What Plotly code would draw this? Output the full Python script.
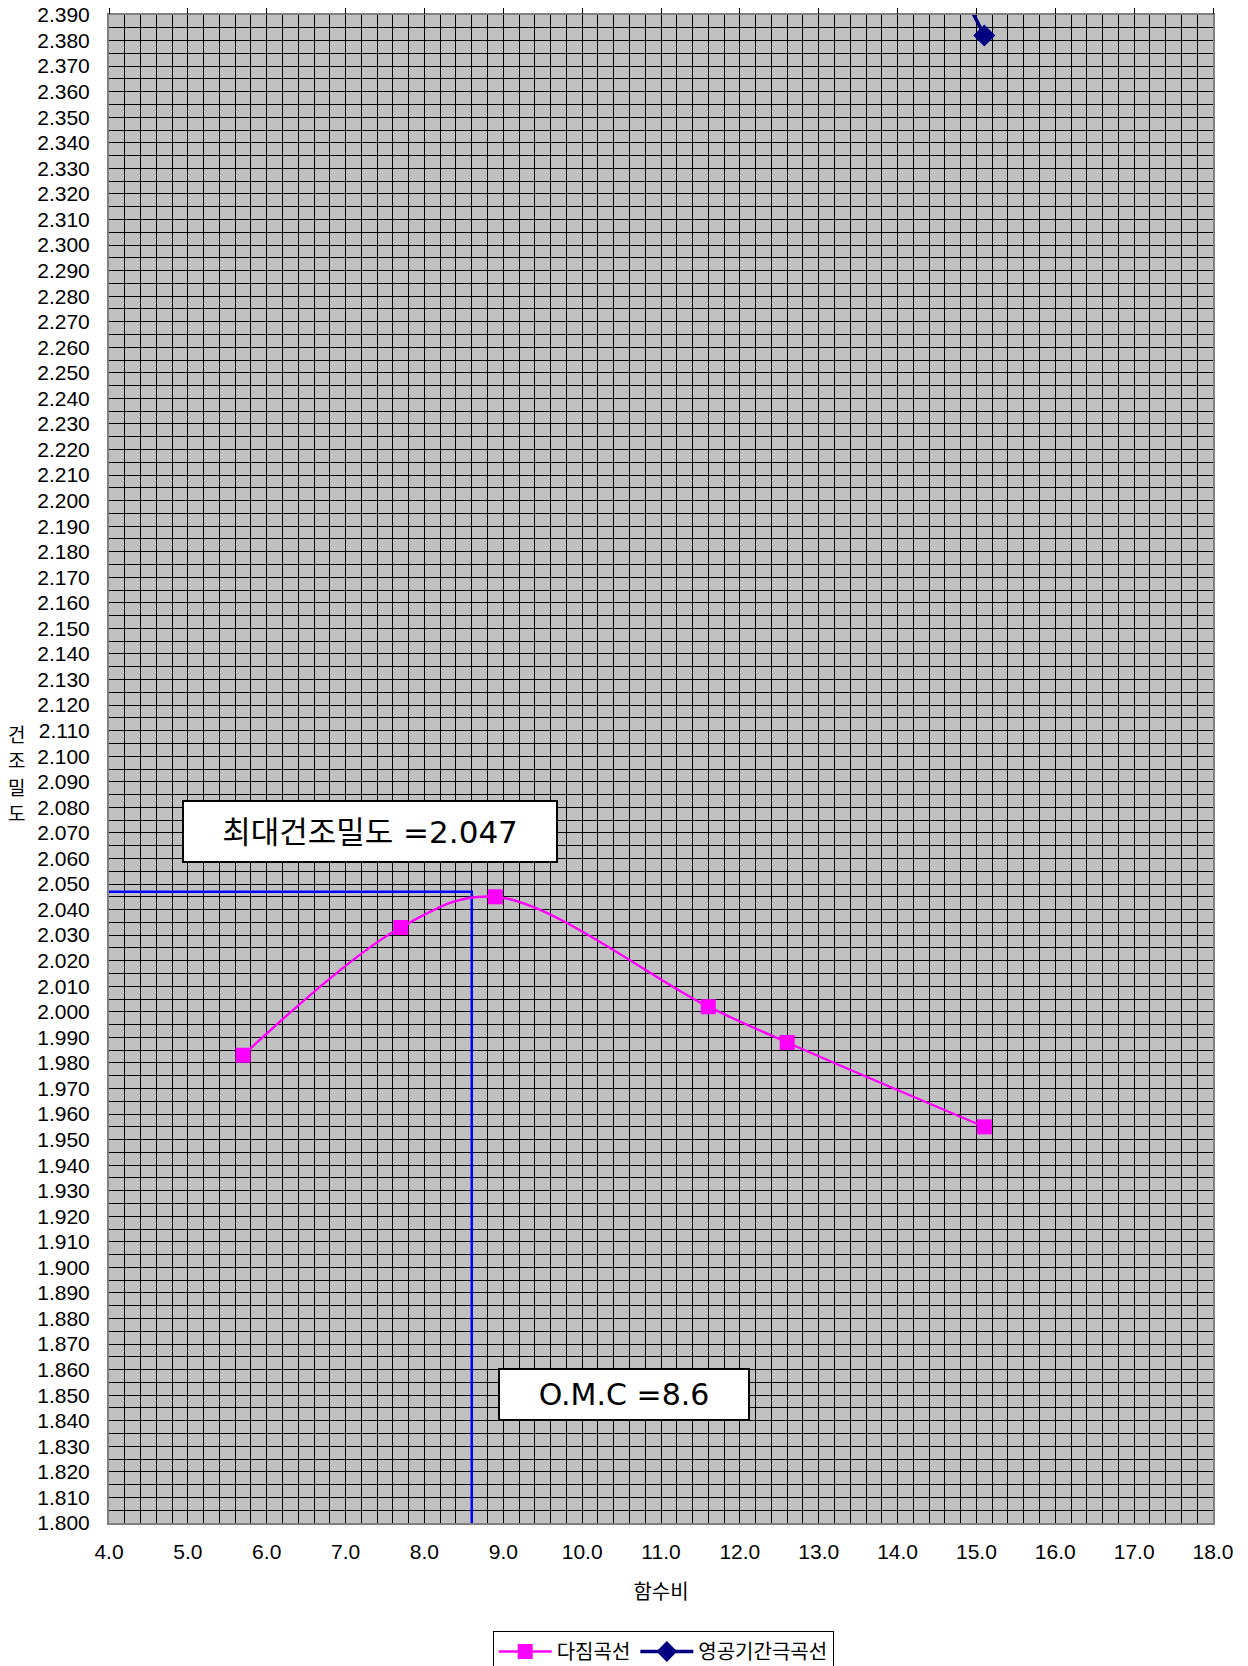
import plotly.graph_objects as go

# Compaction test results (water content %, dry density g/cm3)
water_content = [5.7, 7.7, 8.9, 11.6, 12.6, 15.1]
dry_density = [1.983, 2.033, 2.045, 2.002, 1.988, 1.955]

# Zero-air-voids curve points (only the last one falls inside the axis range)
zav_water = [12.6, 15.1]
zav_density = [2.533, 2.382]

# Optimum moisture content and maximum dry density
omc = 8.6
mdd = 2.047

x_range = [4.0, 18.0]
y_range = [1.800, 2.390]

series_names = ["다짐곡선", "영공기간극곡선"]
x_title = "함수비"
y_title_chars = ["건", "조", "밀", "도"]
mdd_label = "최대건조밀도 =2.047"
omc_label = "O.M.C =8.6"

FONT = "Liberation Sans, Noto Sans CJK KR, sans-serif"
KFONT = "Noto Sans CJK KR, Liberation Sans, sans-serif"
BOXFONT = "DejaVu Sans, Noto Sans CJK KR, sans-serif"

fig = go.Figure()

# Guide lines marking the optimum point
fig.add_trace(go.Scatter(
    x=[x_range[0], omc, omc], y=[mdd, mdd, y_range[0]],
    mode="lines", line=dict(color="#0000FF", width=2.5),
    showlegend=False, hoverinfo="skip", cliponaxis=True,
))

fig.add_trace(go.Scatter(
    x=water_content, y=dry_density, name=series_names[0],
    mode="lines+markers",
    line=dict(color="#FF00FF", width=2.4, shape="spline", smoothing=1.0),
    marker=dict(symbol="square", size=15, color="#FF00FF"),
))

fig.add_trace(go.Scatter(
    x=zav_water, y=zav_density, name=series_names[1],
    mode="lines+markers",
    line=dict(color="#000080", width=3.5),
    marker=dict(symbol="diamond", size=17, color="#000080"),
))

axis_line = dict(showline=True, linecolor="#808080", linewidth=2, mirror=True)

fig.update_layout(
    width=1248, height=1666,
    margin=dict(l=109, r=35, t=15, b=143, autoexpand=False),
    paper_bgcolor="white",
    plot_bgcolor="#C0C0C0",
    font=dict(family=FONT, size=21, color="#000000"),
    xaxis=dict(
        range=x_range, dtick=1.0, tick0=4.0, tickformat=".1f",
        showgrid=True, gridcolor="#000000", gridwidth=1,
        minor=dict(dtick=0.2, showgrid=True, gridcolor="#000000", gridwidth=1),
        ticks="", ticklabelstandoff=9, zeroline=False,
        title=dict(text=x_title, font=dict(size=20, family=KFONT), standoff=23),
        automargin=False, **axis_line,
    ),
    xaxis2=dict(
        range=x_range, dtick=1.0, tick0=4.0, overlaying="x", side="top",
        anchor="y", ticks="outside", ticklen=6, tickcolor="#000000",
        tickwidth=1, showticklabels=False, showgrid=False, zeroline=False,
    ),
    yaxis=dict(
        range=y_range, dtick=0.01, tick0=1.8, tickformat=".3f",
        showgrid=True, gridcolor="#000000", gridwidth=1,
        minor=dict(dtick=0.005, showgrid=True, gridcolor="#000000", gridwidth=1),
        ticks="inside", ticklen=5, tickcolor="#000000",
        ticklabelstandoff=13, zeroline=False, automargin=False, **axis_line,
    ),
    legend=dict(
        orientation="h", x=0.502, xanchor="center",
        yref="container", y=0.021, yanchor="top",
        bordercolor="#000000", borderwidth=1, bgcolor="white",
        font=dict(size=20, family=KFONT), itemwidth=53, tracegroupgap=0,
    ),
    showlegend=True,
)

# Anchor trace so the top tick axis is drawn
fig.add_trace(go.Scatter(x=[x_range[0]], y=[y_range[0]], xaxis="x2",
                         mode="markers", marker=dict(opacity=0),
                         showlegend=False, hoverinfo="skip"))

# Vertical y-axis title, one character per line
char_step = 0.01757
for i, ch in enumerate(y_title_chars):
    fig.add_annotation(
        text=ch, xref="paper", yref="paper",
        x=-0.0838, y=0.4975 + (1.5 - i) * char_step,
        xanchor="center", yanchor="middle", height=25,
        showarrow=False, font=dict(size=19, family=KFONT),
    )

# Value boxes
fig.add_annotation(
    text=mdd_label, x=7.315, y=2.0706, xref="x", yref="y",
    showarrow=False, font=dict(size=31, family=BOXFONT), bgcolor="white",
    bordercolor="#000000", borderwidth=2, width=370, height=57,
    xanchor="center", yanchor="middle",
)
fig.add_annotation(
    text=omc_label, x=10.53, y=1.8503, xref="x", yref="y",
    showarrow=False, font=dict(size=30, family=BOXFONT), bgcolor="white",
    bordercolor="#000000", borderwidth=2, width=246, height=47,
    xanchor="center", yanchor="middle",
)

fig.write_html("out.html")
